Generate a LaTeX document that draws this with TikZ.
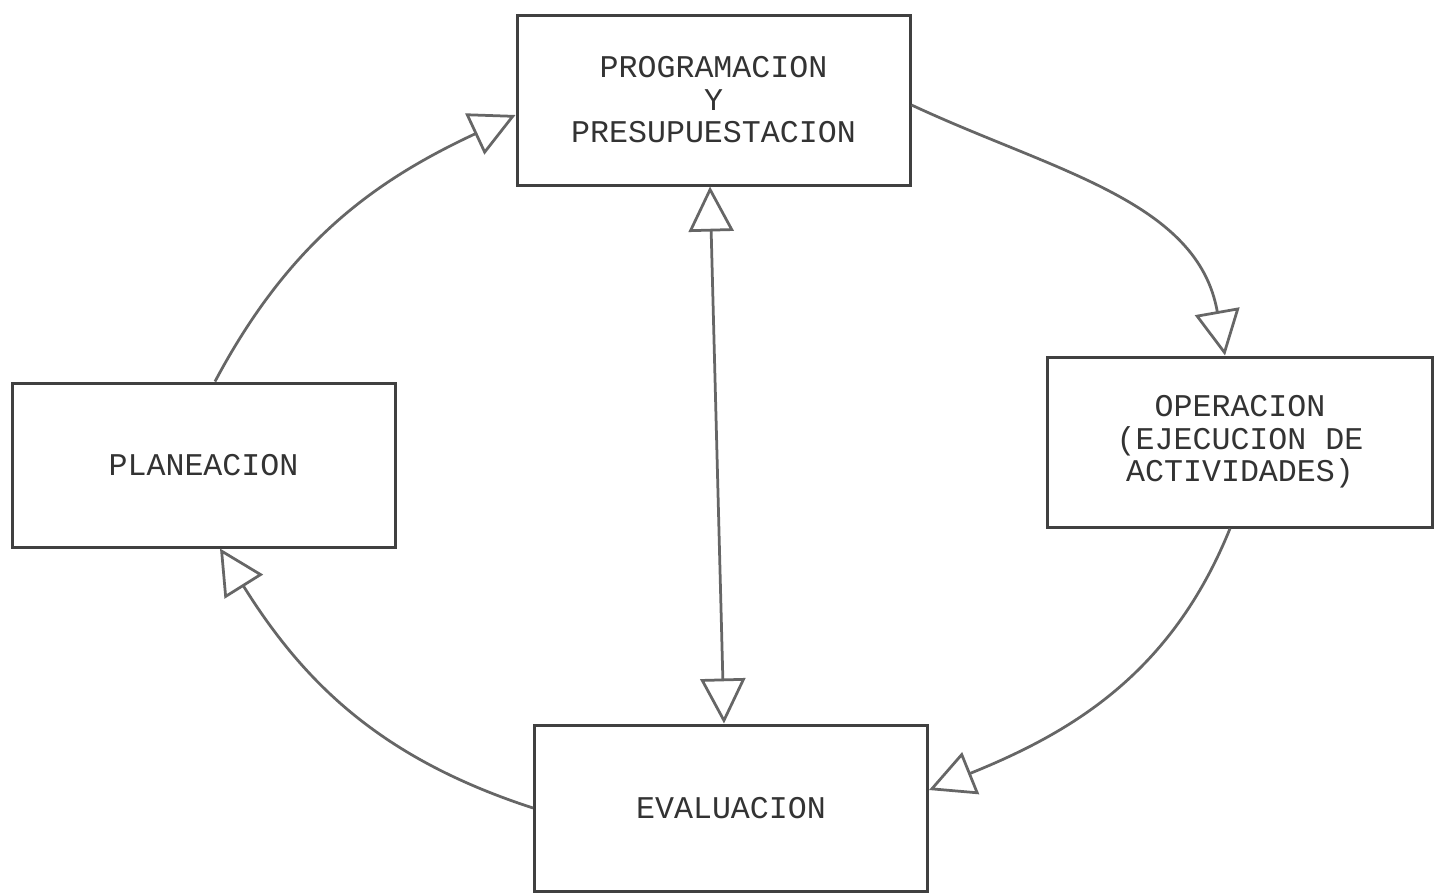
\documentclass[tikz,border=0pt]{standalone}
\usepackage{fontspec}
\setmonofont{Liberation Mono}
\usetikzlibrary{arrows.meta}
\begin{document}
\begin{tikzpicture}[line width=0.55mm,>={Triangle[open,length=0.9cm,width=0.9cm]}]
			\fill[white] (0,0) rectangle (28.7,-17.84);
			\useasboundingbox (0,0) rectangle (28.7,-17.84);
			\begin{scope}[every node/.style={font=\fontsize{18}{18.5}\selectfont\ttfamily},draw=black!60]
				\tikzstyle{every node}=[draw=black!75,fill=none,shape=rectangle,line width=0.6mm,align=center,text=black!80,font=\fontsize{18}{18.5}\selectfont\ttfamily];
				\path (14.27, -2.00) node [minimum width=7.86cm,minimum height=3.40cm] (vProg) {PROGRAMACION\\Y\\PRESUPUESTACION};
				\path ( 4.07, -9.30) node [minimum width=7.66cm,minimum height=3.28cm] (vPlan) {PLANEACION};
				\path (24.80, -8.84) node [minimum width=7.70cm,minimum height=3.40cm] (vOper) {OPERACION\\(EJECUCION DE\\ACTIVIDADES)};
				\path (14.62,-16.16) node [minimum width=7.86cm,minimum height=3.32cm] (vEval) {EVALUACION};
				\draw [->] ([xshift=0.23cm]vPlan.north) to [out=62,in=205] ([yshift=-0.3cm]vProg.west);
				\draw [->] ([yshift=-0.1cm]vProg.east) to [out=-25,in=100] ([xshift=-0.3cm]vOper.north);
				\draw [->] ([xshift=-0.2cm]vOper.south) to [out=-112,in=22] ([yshift=0.36cm]vEval.east);
				\draw [->] (vEval.west) to [out=162,in=-58] ([xshift=0.33cm]vPlan.south);
				\draw [<->] ([xshift=-0.07cm]vProg.south) -- ([xshift=-0.14cm]vEval.north);
			\end{scope}
		\end{tikzpicture}
\end{document}
